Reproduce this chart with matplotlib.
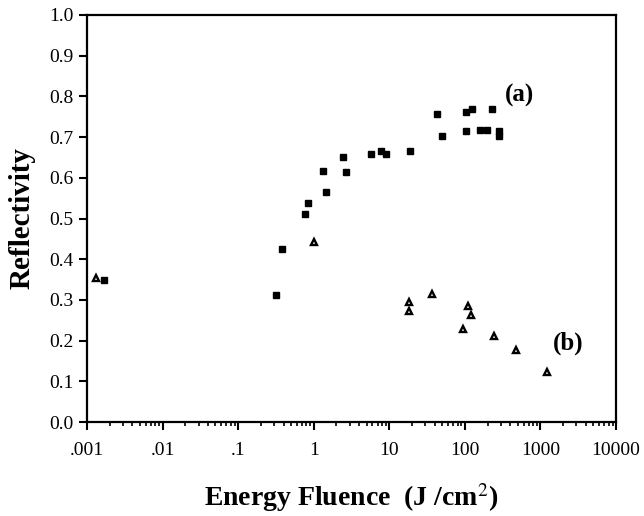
import matplotlib
matplotlib.use('Agg')
import matplotlib.pyplot as plt
from matplotlib.ticker import LogLocator, FixedLocator, NullFormatter

plt.rcParams['font.family'] = ['Liberation Serif', 'DejaVu Serif']
plt.rcParams['mathtext.fontset'] = 'stix'

# data
# (a) squares
fluence_a = [0.0017, 0.32, 0.377, 0.77, 0.84, 1.33, 1.47, 2.48, 2.64, 5.7, 7.8, 9.1,
             18.7, 43, 50, 104, 126, 104, 158, 194, 227, 281, 281]
refl_a = [0.349, 0.311, 0.425, 0.511, 0.537, 0.616, 0.564, 0.651, 0.615, 0.659, 0.667, 0.659,
          0.667, 0.757, 0.702, 0.761, 0.769, 0.714, 0.718, 0.718, 0.769, 0.716, 0.702]

# (b) triangles
fluence_b = [0.00133, 1.0, 18.5, 18.5, 36.7, 109, 122, 95, 242, 475, 1213]
refl_b = [0.353, 0.443, 0.295, 0.273, 0.315, 0.284, 0.263, 0.228, 0.211, 0.176, 0.123]

xtick_vals = [0.001, 0.01, 0.1, 1, 10, 100, 1000, 10000]
xtick_labels = ['.001', '.01', '.1', '1', '10', '100', '1000', '10000']
ytick_vals = [0.0, 0.1, 0.2, 0.3, 0.4, 0.5, 0.6, 0.7, 0.8, 0.9, 1.0]

fig = plt.figure(figsize=(6.44, 5.16), dpi=100)
ax = fig.add_axes([0.135, 0.182, 0.9565 - 0.135, 0.971 - 0.182])

ax.plot(fluence_a, refl_a, 's', color='black', markersize=4.5, linestyle='none')
ax.plot(fluence_b, refl_b, '^', markerfacecolor='white', markeredgecolor='black',
        markersize=5, markeredgewidth=1.7, linestyle='none')

ax.set_xscale('log')
ax.set_xlim(0.001, 10000)
ax.set_ylim(0.0, 1.0)

ax.xaxis.set_major_locator(FixedLocator(xtick_vals))
ax.set_xticklabels(xtick_labels)
ax.xaxis.set_minor_locator(LogLocator(base=10, subs=range(2, 10), numticks=20))
ax.xaxis.set_minor_formatter(NullFormatter())
ax.set_yticks(ytick_vals)
ax.set_yticklabels(['%.1f' % v for v in ytick_vals])

for s in ax.spines.values():
    s.set_linewidth(1.6)

ax.tick_params(axis='both', which='major', direction='out', length=5.5, width=1.5,
               labelsize=14, top=False, right=False)
ax.tick_params(axis='x', which='major', pad=9)
ax.tick_params(axis='y', which='major', pad=4)
ax.tick_params(axis='x', which='minor', direction='out', length=3, width=1.2, top=False)

ax.set_ylabel('Reflectivity', fontsize=21, fontweight='bold', labelpad=10)
ax.set_xlabel('Energy Fluence  (J /cm$^{2}$)', fontsize=20, fontweight='bold', labelpad=16)

ax.text(537, 0.803, '(a)', fontsize=18, fontweight='bold', ha='center', va='center')
ax.text(2317, 0.194, '(b)', fontsize=18, fontweight='bold', ha='center', va='center')

plt.savefig('out.png', dpi=100, facecolor='w')
